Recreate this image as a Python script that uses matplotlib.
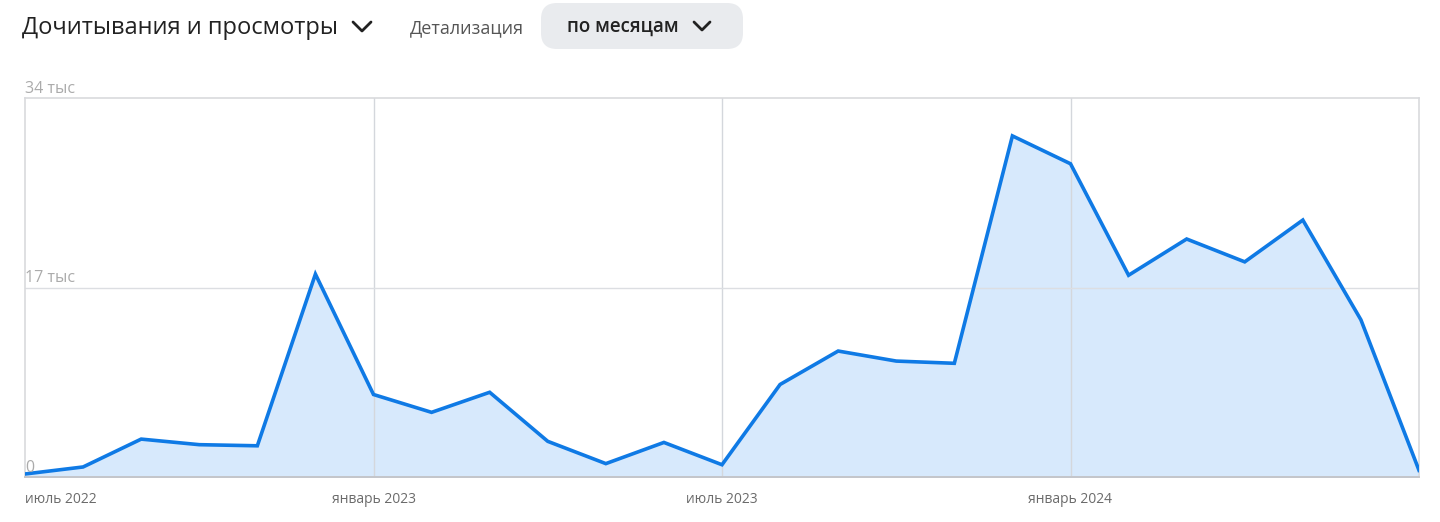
import numpy as np
import matplotlib
matplotlib.use("Agg")
import matplotlib.pyplot as plt
from matplotlib.patches import FancyBboxPatch

plt.rcParams['font.family'] = ['Open Sans', 'DejaVu Sans']

# monthly values, July 2022 .. July 2024 (thousands)
months = ['июль 2022', 'авг', 'сен', 'окт', 'ноя', 'дек',
          'январь 2023', 'фев', 'мар', 'апр', 'май', 'июн',
          'июль 2023', 'авг', 'сен', 'окт', 'ноя', 'дек',
          'январь 2024', 'фев', 'мар', 'апр', 'май', 'июн', 'июль 2024']
values = [0.27, 0.9, 3.4, 2.9, 2.8, 18.2, 7.4, 5.8, 7.6, 3.2, 1.2, 3.1,
          1.1, 8.3, 11.3, 10.4, 10.2, 30.6, 28.1, 18.1, 21.35, 19.3, 23.05, 14.1, 0.6]
tick_idx = [0, 6, 12, 18]
tick_labels = ['июль 2022', 'январь 2023', 'июль 2023', 'январь 2024']
y_ticks = [0, 17, 34]
y_labels = ['0', '17 тыс', '34 тыс']

W, H = 1440, 522
fig = plt.figure(figsize=(W / 100, H / 100), dpi=100)

L, R, T, B = 25, 1419, 98, 477
ax = fig.add_axes([L / W, 1 - B / H, (R - L) / W, (B - T) / H])
x = np.arange(len(values))
ax.fill_between(x, values, 0, color='#d7e9fc', zorder=1)
ax.plot(x, values, color='#0f7ae5', lw=2.6, solid_joinstyle='miter', zorder=3)
ax.set_xlim(0, len(values) - 1)
ax.set_ylim(0, 34)

for i in tick_idx[1:]:
    ax.axvline(i, color='#d4d7dc', lw=1, zorder=2)
ax.axhline(17, color='#dcdee2', lw=1, zorder=2)

for s in ['left', 'right', 'top']:
    ax.spines[s].set_color('#d9dadd')
    ax.spines[s].set_linewidth(1.2)
ax.spines['bottom'].set_color('#c4c6ca')
ax.spines['bottom'].set_linewidth(1.4)
ax.set_xticks([])
ax.set_yticks([])

for i, lab in zip(tick_idx, tick_labels):
    ax.annotate(lab, (i, 0), xytext=(0, -11), textcoords='offset points',
                ha='left' if i == 0 else 'center', va='top',
                fontsize=10, color='#6b6b6b')
for v, lab in zip(y_ticks, y_labels):
    ax.annotate(lab, (0, v), xytext=(0, 1), textcoords='offset points',
                ha='left', va='bottom', fontsize=11.5, color='#ababab')

# header overlay in pixel coordinates
hx = fig.add_axes([0, 0, 1, 1], zorder=5)
hx.set_xlim(0, W)
hx.set_ylim(H, 0)
hx.axis('off')
hx.patch.set_alpha(0)

hx.text(22, 28, 'Дочитывания и просмотры', fontsize=17, color='#222222',
        va='center', ha='left')
hx.plot([353, 362, 371], [22, 31, 22], color='#222222', lw=2, solid_capstyle='round')
hx.text(410, 28, 'Детализация', fontsize=13, color='#555555', va='center', ha='left')
btn = FancyBboxPatch((541, 3), 202, 46, boxstyle='round,pad=0,rounding_size=16',
                     facecolor='#e9ebee', edgecolor='none')
hx.add_patch(btn)
hx.text(567, 27, 'по месяцам', fontsize=13.5, color='#222222', va='center',
        ha='left', fontweight='semibold')
hx.plot([694, 702, 710], [22, 30, 22], color='#222222', lw=2, solid_capstyle='round')

fig.savefig('out.png', dpi=100)
